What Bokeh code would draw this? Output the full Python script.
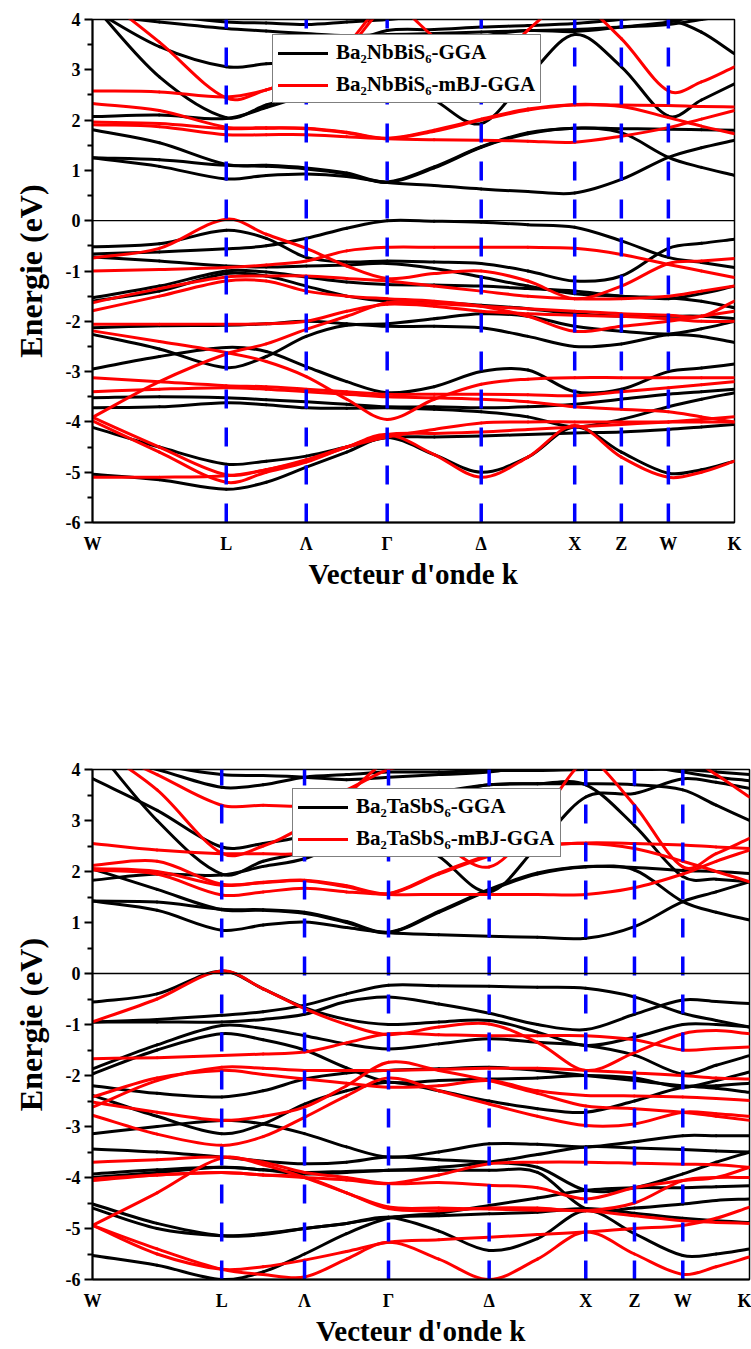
import numpy as np
from bokeh.plotting import figure
from bokeh.models import FixedTicker, Legend, LegendItem, Span, Range1d
from bokeh.layouts import column
from bokeh.embed import file_html
from bokeh.resources import INLINE

# ---------------- data ----------------
kpt_labels = ["W", "L", "Λ", "Γ", "Δ", "X", "Z", "W", "K"]
kpt_top = [0.0, 0.714, 1.141, 1.573, 2.075, 2.574, 2.823, 3.074, 3.427]
kpt_bot = [0.0, 0.674, 1.106, 1.544, 2.069, 2.573, 2.827, 3.079, 3.427]

series_names = ["Ba₂NbBiS₆-GGA", "Ba₂NbBiS₆-mBJ-GGA", "Ba₂TaSbS₆-GGA", "Ba₂TaSbS₆-mBJ-GGA"]

# energies (eV) sampled at W, ½, L, ½, Λ, ½, Γ, ½, Δ, ½, X, Z, W, ½, K
nb_gga_cond = [
    [1.25, 1.08, 0.83, 0.9, 0.93, 0.88, 0.76, 0.7, 0.63, 0.58, 0.55, 0.82, 1.26, 1.45, 1.6],
    [1.25, 1.21, 1.1, 1.08, 1.03, 0.93, 0.76, 1.05, 1.46, 1.73, 1.84, 1.75, 1.26, 1.06, 0.9],
    [1.81, 1.55, 1.12, 1.1, 1.05, 0.95, 0.77, 1.07, 1.47, 1.75, 1.84, 1.83, 1.82, 1.81, 1.8],
    [2.07, 2.1, 2.03, 2.25, 2.5, 2.75, 2.9, 2.4, 1.93, 2.86, 3.7, 3.06, 2.08, 2.4, 2.72],
    [4.3, 2.86, 2.05, 2.3, 2.55, 2.85, 3.0, 3.3, 3.65, 3.78, 3.76, 3.85, 3.95, 4.1, 4.2],
    [4.2, 3.46, 3.06, 3.12, 3.2, 3.5, 3.78, 3.8, 3.85, 3.88, 3.92, 4.0, 4.1, 4.2, 4.3],
    [4.5, 4.5, 4.5, 4.5, 4.5, 4.5, 4.5, 4.4, 4.3, 4.2, 4.1, 4.1, 4.0, 3.75, 3.32],
    [4.1, 3.95, 3.82, 3.77, 3.72, 3.68, 3.7, 3.72, 3.75, 3.78, 3.8, 3.85, 3.9, 4.0, 4.1],
    [4.3, 4.1, 3.95, 3.93, 3.9, 3.95, 4.0, 4.1, 4.2, 4.2, 4.2, 4.2, 4.2, 4.2, 4.2],
]
nb_gga_val = [
    [-0.52, -0.46, -0.19, -0.35, -0.73, -0.82, -0.8, -0.82, -0.85, -1.0, -1.2, -1.1, -0.55, -0.45, -0.37],
    [-0.66, -0.62, -0.56, -0.5, -0.35, -0.15, 0.0, -0.01, -0.03, -0.08, -0.13, -0.4, -0.73, -0.83, -0.93],
    [-0.72, -0.8, -0.9, -0.92, -0.9, -0.88, -0.85, -0.95, -1.12, -1.3, -1.45, -1.5, -1.55, -1.45, -1.3],
    [-1.53, -1.3, -1.0, -1.02, -1.12, -1.22, -1.27, -1.28, -1.3, -1.35, -1.4, -1.5, -1.53, -1.6, -1.73],
    [-1.6, -1.4, -1.05, -1.1, -1.3, -1.5, -1.6, -1.62, -1.68, -1.75, -1.85, -1.9, -1.9, -1.9, -1.95],
    [-2.13, -2.09, -2.08, -2.05, -2.0, -2.05, -2.1, -2.1, -2.13, -2.3, -2.5, -2.45, -2.27, -2.3, -2.42],
    [-2.26, -2.55, -2.92, -2.7, -2.3, -2.08, -2.05, -1.95, -1.85, -1.9, -2.1, -2.2, -2.25, -2.15, -2.0],
    [-2.95, -2.7, -2.52, -2.6, -2.9, -3.2, -3.42, -3.3, -3.0, -2.97, -3.4, -3.35, -3.0, -2.93, -2.85],
    [-3.52, -3.5, -3.52, -3.56, -3.6, -3.65, -3.7, -3.7, -3.72, -3.7, -3.65, -3.55, -3.45, -3.4, -3.35],
    [-3.72, -3.7, -3.62, -3.66, -3.72, -3.73, -3.72, -3.75, -3.8, -3.9, -4.1, -3.95, -3.7, -3.55, -3.42],
    [-4.11, -4.5, -4.84, -4.78, -4.68, -4.5, -4.31, -4.3, -4.28, -4.25, -4.22, -4.2, -4.15, -4.1, -4.05],
    [-5.04, -5.15, -5.34, -5.2, -4.9, -4.6, -4.31, -4.65, -5.0, -4.7, -4.1, -4.6, -5.02, -4.95, -4.78],
]
nb_mbj_cond = [
    [1.91, 1.87, 1.71, 1.71, 1.71, 1.67, 1.63, 1.61, 1.6, 1.58, 1.56, 1.68, 1.85, 2.02, 2.19],
    [1.96, 1.93, 1.83, 1.84, 1.83, 1.75, 1.63, 1.78, 2.0, 2.2, 2.3, 2.27, 2.05, 1.88, 1.73],
    [2.33, 2.19, 1.86, 1.85, 1.84, 1.76, 1.64, 1.8, 2.02, 2.22, 2.31, 2.3, 2.29, 2.27, 2.26],
    [2.58, 2.56, 2.46, 2.6, 2.9, 3.5, 4.3, 3.65, 2.9, 3.79, 4.5, 4.5, 4.5, 4.5, 4.5],
    [4.6, 3.55, 2.44, 2.6, 2.9, 3.4, 4.3, 4.5, 4.5, 4.5, 4.5, 4.5, 4.5, 4.5, 4.5],
    [4.6, 4.6, 4.6, 4.6, 4.6, 4.6, 4.6, 4.6, 4.6, 4.5, 4.4, 3.62, 2.58, 2.76, 3.06],
]
nb_mbj_val = [
    [-0.74, -0.55, 0.03, -0.27, -0.55, -0.9, -1.15, -1.05, -1.0, -1.2, -1.55, -1.3, -0.85, -0.8, -0.75],
    [-1.0, -0.97, -0.93, -0.88, -0.8, -0.6, -0.53, -0.53, -0.53, -0.53, -0.55, -0.67, -0.87, -1.0, -1.13],
    [-1.63, -1.35, -1.12, -1.1, -1.1, -1.15, -1.2, -1.3, -1.4, -1.5, -1.55, -1.55, -1.5, -1.4, -1.3],
    [-1.79, -1.5, -1.2, -1.2, -1.4, -1.5, -1.55, -1.6, -1.7, -1.9, -2.2, -2.1, -2.0, -1.9, -1.8],
    [-2.06, -2.06, -2.06, -2.05, -2.0, -1.8, -1.66, -1.7, -1.8, -1.85, -1.88, -1.9, -1.95, -2.0, -2.0],
    [-3.91, -3.2, -2.65, -2.45, -2.16, -1.9, -1.63, -1.65, -1.7, -1.75, -1.8, -1.85, -1.88, -1.9, -1.6],
    [-2.19, -2.4, -2.62, -2.8, -3.1, -3.55, -3.95, -3.55, -3.25, -3.15, -3.12, -3.12, -3.12, -3.12, -3.12],
    [-3.12, -3.2, -3.28, -3.3, -3.35, -3.4, -3.45, -3.45, -3.45, -3.46, -3.48, -3.4, -3.32, -3.26, -3.2],
    [-3.4, -3.35, -3.32, -3.35, -3.4, -3.45, -3.5, -3.52, -3.55, -3.6, -3.7, -3.75, -3.8, -3.9, -4.0],
    [-3.91, -4.5, -5.05, -4.95, -4.77, -4.5, -4.25, -4.65, -5.1, -4.7, -4.07, -4.7, -5.1, -5.0, -4.78],
    [-3.98, -4.6, -5.2, -5.0, -4.8, -4.5, -4.25, -4.23, -4.2, -4.15, -4.1, -4.05, -4.0, -3.95, -3.9],
    [-5.1, -5.1, -5.07, -4.95, -4.75, -4.5, -4.3, -4.15, -4.02, -4.0, -4.0, -4.0, -4.0, -4.0, -4.0],
]
ta_gga_cond = [
    [1.42, 1.24, 0.85, 0.95, 1.01, 0.9, 0.8, 0.76, 0.73, 0.71, 0.69, 0.92, 1.41, 1.6, 1.8],
    [2.05, 1.65, 1.25, 1.24, 1.18, 1.0, 0.8, 1.2, 1.63, 1.95, 2.09, 2.03, 1.41, 1.2, 1.05],
    [1.42, 1.4, 1.26, 1.25, 1.2, 1.02, 0.81, 1.22, 1.65, 1.97, 2.1, 2.08, 2.02, 2.0, 1.96],
    [1.83, 1.95, 1.93, 2.1, 2.25, 2.6, 2.9, 2.3, 1.6, 2.5, 3.46, 3.53, 3.82, 3.75, 3.63],
    [4.5, 3.0, 1.95, 2.2, 2.4, 2.8, 3.2, 3.5, 3.7, 3.72, 3.7, 2.9, 1.9, 1.85, 1.8],
    [3.82, 3.2, 2.48, 2.55, 2.7, 3.0, 3.3, 3.55, 3.7, 3.72, 3.72, 3.7, 3.6, 3.3, 3.0],
    [4.3, 4.0, 3.65, 3.7, 3.85, 3.9, 3.95, 3.95, 3.98, 3.98, 4.0, 4.0, 4.0, 3.95, 3.9],
    [4.4, 4.1, 3.9, 3.88, 3.85, 3.8, 3.85, 3.9, 3.95, 4.1, 4.2, 4.1, 3.95, 3.85, 3.78],
]
ta_gga_val = [
    [-0.56, -0.4, 0.05, -0.3, -0.67, -0.9, -1.0, -0.95, -0.92, -1.15, -1.41, -1.25, -1.0, -1.0, -1.05],
    [-0.95, -0.9, -0.82, -0.75, -0.62, -0.4, -0.23, -0.24, -0.25, -0.27, -0.29, -0.46, -0.78, -0.92, -1.05],
    [-0.95, -0.95, -0.95, -0.9, -0.8, -0.55, -0.46, -0.6, -0.78, -1.0, -1.1, -0.8, -0.52, -0.55, -0.59],
    [-1.87, -1.4, -1.02, -1.08, -1.22, -1.38, -1.48, -1.38, -1.28, -1.35, -1.41, -1.6, -1.97, -1.8, -1.61],
    [-1.97, -1.5, -1.18, -1.3, -1.5, -1.85, -2.13, -2.1, -2.07, -2.05, -2.0, -2.05, -2.23, -2.1, -1.93],
    [-2.2, -2.35, -2.42, -2.3, -2.07, -1.95, -1.9, -1.87, -1.84, -1.9, -2.0, -2.1, -2.2, -2.25, -2.33],
    [-2.39, -2.8, -3.14, -2.95, -2.56, -2.3, -2.13, -2.3, -2.5, -2.65, -2.72, -2.5, -2.23, -2.2, -2.15],
    [-3.14, -3.0, -2.88, -2.95, -3.14, -3.4, -3.6, -3.5, -3.34, -3.35, -3.4, -3.3, -3.18, -3.18, -3.18],
    [-3.44, -3.5, -3.6, -3.68, -3.73, -3.7, -3.6, -3.65, -3.7, -3.8, -4.25, -4.2, -3.93, -3.7, -3.5],
    [-3.93, -3.85, -3.8, -3.85, -3.93, -3.9, -3.86, -3.86, -3.86, -3.9, -4.61, -4.6, -4.52, -4.45, -4.42],
    [-4.0, -3.9, -3.8, -3.85, -3.9, -3.88, -3.86, -3.8, -3.7, -3.55, -3.4, -3.42, -3.45, -3.48, -3.5],
    [-4.52, -4.9, -5.14, -5.12, -5.0, -4.9, -4.78, -5.05, -5.43, -5.2, -4.65, -5.1, -5.53, -5.5, -5.4],
    [-4.6, -5.0, -5.14, -5.1, -5.0, -4.9, -4.78, -4.75, -4.71, -4.68, -4.61, -4.7, -4.8, -4.85, -4.88],
    [-5.53, -5.72, -6.0, -5.85, -5.5, -5.1, -4.8, -4.7, -4.55, -4.4, -4.25, -4.2, -4.2, -4.18, -4.16],
]
ta_mbj_cond = [
    [2.03, 1.95, 1.54, 1.6, 1.67, 1.6, 1.55, 1.55, 1.55, 1.55, 1.55, 1.68, 1.95, 2.2, 2.42],
    [2.06, 2.0, 1.73, 1.78, 1.82, 1.7, 1.56, 1.95, 2.3, 2.5, 2.55, 2.45, 2.2, 2.0, 1.8],
    [2.12, 2.2, 1.75, 1.79, 1.83, 1.72, 1.57, 1.97, 2.32, 2.5, 2.56, 2.55, 2.52, 2.48, 2.45],
    [2.55, 2.42, 2.35, 2.35, 2.37, 2.7, 3.2, 2.6, 2.09, 3.0, 4.2, 4.3, 4.3, 4.3, 4.3],
    [4.5, 3.6, 2.36, 2.5, 2.9, 3.5, 4.2, 4.5, 4.5, 4.5, 4.3, 3.3, 2.09, 2.35, 2.65],
    [4.5, 3.9, 3.3, 3.3, 3.3, 3.6, 4.0, 4.2, 4.3, 4.3, 4.3, 4.3, 4.3, 4.3, 4.3],
    [4.5, 4.5, 4.5, 4.5, 4.5, 4.5, 4.5, 4.5, 4.5, 4.5, 4.5, 4.5, 4.3, 3.9, 3.46],
]
ta_mbj_val = [
    [-0.95, -0.5, 0.05, -0.3, -0.69, -1.0, -1.2, -1.05, -0.99, -1.35, -1.9, -1.55, -1.18, -1.12, -1.18],
    [-1.67, -1.65, -1.61, -1.58, -1.54, -1.36, -1.18, -1.2, -1.22, -1.22, -1.22, -1.3, -1.5, -1.47, -1.44],
    [-2.62, -2.1, -1.84, -1.86, -1.9, -1.9, -1.9, -1.88, -1.86, -1.86, -1.9, -1.95, -2.0, -2.05, -2.07],
    [-2.42, -2.05, -1.9, -1.98, -2.07, -2.15, -2.23, -2.2, -2.1, -2.3, -2.39, -2.4, -2.42, -2.45, -2.49],
    [-2.52, -2.72, -2.88, -2.8, -2.62, -2.2, -1.74, -1.9, -2.1, -2.35, -2.6, -2.65, -2.72, -2.8, -2.88],
    [-2.78, -3.15, -3.37, -3.2, -2.82, -2.4, -2.05, -2.3, -2.56, -2.8, -2.98, -2.95, -2.72, -2.75, -2.8],
    [-3.7, -3.65, -3.6, -3.7, -3.9, -4.0, -4.12, -4.1, -4.15, -4.2, -4.42, -4.2, -4.06, -4.0, -3.8],
    [-4.03, -3.95, -3.9, -3.95, -4.0, -4.05, -4.12, -3.95, -3.73, -3.7, -3.7, -3.72, -3.74, -3.75, -3.8],
    [-4.06, -3.95, -3.9, -3.95, -4.0, -4.3, -4.61, -4.65, -4.6, -4.6, -4.65, -4.5, -4.06, -4.0, -4.0],
    [-4.94, -4.3, -3.62, -3.75, -4.0, -4.3, -4.58, -4.6, -4.62, -4.64, -4.65, -4.75, -4.85, -4.88, -4.9],
    [-4.94, -5.5, -5.8, -5.75, -5.62, -5.45, -5.27, -5.22, -5.17, -5.12, -5.07, -5.0, -4.94, -4.8, -4.58],
    [-4.94, -5.4, -5.8, -5.9, -5.95, -5.6, -5.27, -5.6, -6.0, -5.6, -5.07, -5.5, -5.9, -5.75, -5.56],
]

y_ticks = [-6, -5, -4, -3, -2, -1, 0, 1, 2, 3, 4]
y_range = (-6, 4)

# ---------------- helpers ----------------
SERIF = "Liberation Serif"


def sample_k(k):
    w0, l, lam, g, d, x, z, w1, kk = k
    return [w0, (w0 + l) / 2, l, (l + lam) / 2, lam, (lam + g) / 2, g, (g + d) / 2, d,
            (d + x) / 2, x, z, w1, (w1 + kk) / 2, kk]


def spline_segments(ks, bands):
    """Smooth (cubic Bezier) connection through the read points of every band."""
    x = np.asarray(ks, dtype=float)
    out = {k: [] for k in ("x0", "y0", "x1", "y1", "cx0", "cy0", "cx1", "cy1")}
    for band in bands:
        y = np.asarray(band, dtype=float)
        n = len(x)
        m = np.zeros(n)
        m[0] = (y[1] - y[0]) / (x[1] - x[0])
        m[-1] = (y[-1] - y[-2]) / (x[-1] - x[-2])
        for i in range(1, n - 1):
            m[i] = (y[i + 1] - y[i - 1]) / (x[i + 1] - x[i - 1])
        for i in range(n - 1):
            h = x[i + 1] - x[i]
            out["x0"].append(x[i]); out["y0"].append(y[i])
            out["x1"].append(x[i + 1]); out["y1"].append(y[i + 1])
            out["cx0"].append(x[i] + h / 3); out["cy0"].append(y[i] + m[i] * h / 3)
            out["cx1"].append(x[i + 1] - h / 3); out["cy1"].append(y[i + 1] - m[i + 1] * h / 3)
    return out


def make_panel(kpts, gga_bands, mbj_bands, names, width, height, border, legend_xy):
    left, right, top, bottom = border
    p = figure(width=width, height=height, output_backend="svg", toolbar_location=None,
               x_range=Range1d(kpts[0], kpts[-1]), y_range=Range1d(*y_range),
               min_border_left=left, min_border_right=right,
               min_border_top=top, min_border_bottom=bottom,
               frame_width=width - left - right, frame_height=height - top - bottom)
    p.grid.visible = False
    p.outline_line_color = "black"
    p.outline_line_width = 1.5
    p.background_fill_color = "white"
    p.border_fill_color = "white"

    ks = sample_k(kpts)
    r_g = p.bezier(line_color="black", line_width=3, line_cap="round",
                   **spline_segments(ks, gga_bands))
    r_m = p.bezier(line_color="#ff0000", line_width=3, line_cap="round",
                   **spline_segments(ks, mbj_bands))

    # zero energy line
    p.add_layout(Span(location=0, dimension="width", line_color="black", line_width=1.3))

    # high symmetry dashed lines
    inner = kpts[1:-1]
    p.multi_line([[k, k] for k in inner], [[y_range[0], y_range[1]] for _ in inner],
                 line_color="#0000ff", line_width=3.5, line_dash="19 19")

    # axes
    xa = p.xaxis[0]
    xa.ticker = FixedTicker(ticks=kpts)
    xa.major_label_overrides = {k: lab for k, lab in zip(kpts, kpt_labels)}
    xa.major_tick_line_color = None
    xa.minor_tick_line_color = None
    xa.major_tick_out = 0
    xa.major_label_standoff = 11
    xa.axis_line_width = 2
    xa.axis_label = "Vecteur d'onde k"
    xa.axis_label_text_font = SERIF
    xa.axis_label_text_font_style = "bold"
    xa.axis_label_text_font_size = "29px"
    xa.axis_label_text_color = "black"
    xa.axis_label_standoff = 1
    xa.major_label_text_font = SERIF
    xa.major_label_text_font_style = "bold"
    xa.major_label_text_font_size = "18px"
    xa.major_label_text_color = "black"

    ya = p.yaxis[0]
    minor = [t + 0.5 for t in y_ticks[:-1]]
    ya.ticker = FixedTicker(ticks=y_ticks, minor_ticks=minor)
    ya.major_label_overrides = {t: str(t) for t in y_ticks}
    ya.axis_line_width = 2
    ya.major_tick_line_width = 2
    ya.minor_tick_line_width = 2
    ya.major_tick_out = 8
    ya.major_tick_in = 0
    ya.minor_tick_out = 5
    ya.minor_tick_in = 0
    ya.major_label_standoff = 4
    ya.axis_label = "Energie (eV)"
    ya.axis_label_text_font = SERIF
    ya.axis_label_text_font_style = "bold"
    ya.axis_label_text_font_size = "32px"
    ya.axis_label_text_color = "black"
    ya.axis_label_standoff = 14
    ya.major_label_text_font = SERIF
    ya.major_label_text_font_style = "bold"
    ya.major_label_text_font_size = "18px"
    ya.major_label_text_color = "black"

    legend = Legend(items=[LegendItem(label=names[0], renderers=[r_g]),
                           LegendItem(label=names[1], renderers=[r_m])],
                    location=legend_xy)
    legend.label_text_font = SERIF
    legend.label_text_font_style = "bold"
    legend.label_text_font_size = "21px"
    legend.label_text_color = "black"
    legend.glyph_width = 50
    legend.glyph_height = 24
    legend.label_height = 24
    legend.label_standoff = 8
    legend.spacing = 7
    legend.padding = 5
    legend.margin = 0
    legend.border_line_color = "black"
    legend.border_line_width = 1
    legend.background_fill_alpha = 1.0
    p.add_layout(legend)
    return p


nb_gga = nb_gga_cond + nb_gga_val
nb_mbj = nb_mbj_cond + nb_mbj_val
ta_gga = ta_gga_cond + ta_gga_val
ta_mbj = ta_mbj_cond + ta_mbj_val

p1 = make_panel(kpt_top, nb_gga, nb_mbj, series_names[:2], 751, 620,
                (92, 17, 19, 98), (180, 419))
p2 = make_panel(kpt_bot, ta_gga, ta_mbj, series_names[2:], 751, 729,
                (86, 8, 149, 70), (200, 422))

layout = column(p1, p2, spacing=0)
open("out.html", "w").write(file_html(layout, INLINE))
